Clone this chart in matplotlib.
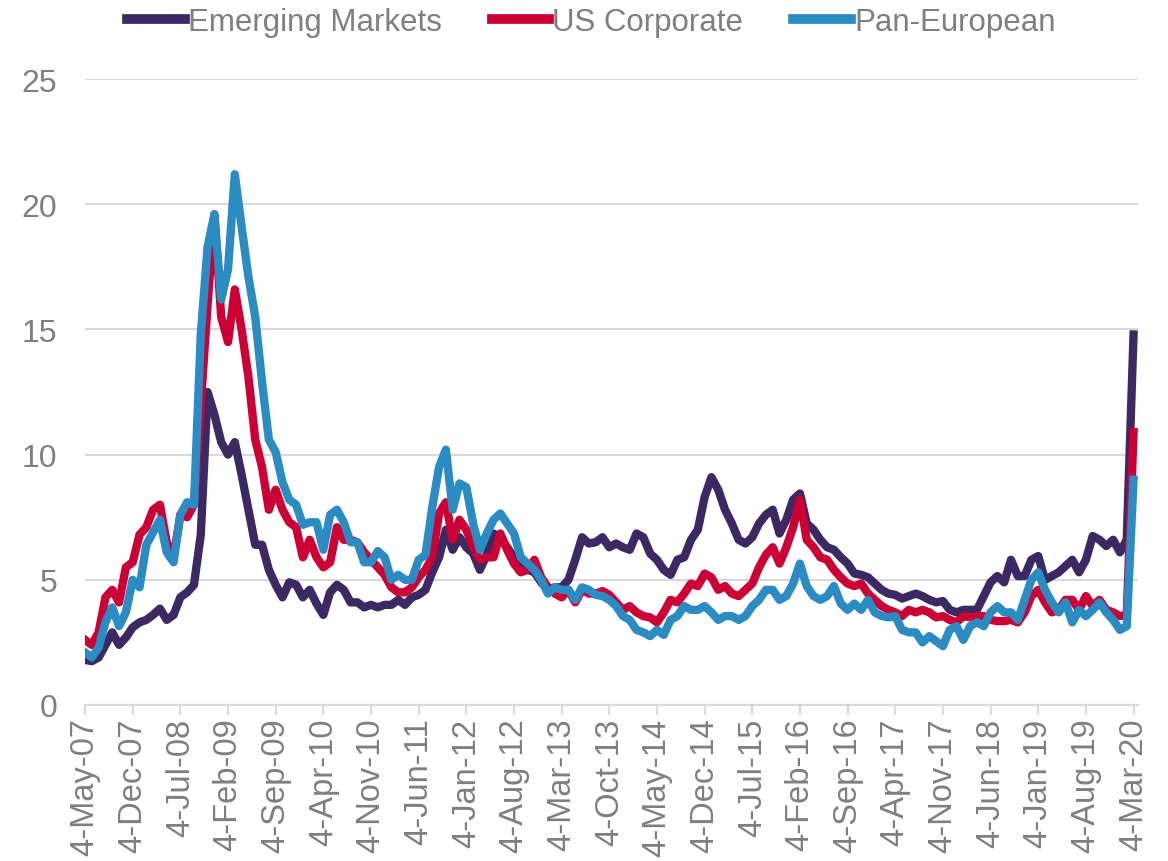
import numpy as np
import matplotlib
matplotlib.use("Agg")
import matplotlib.pyplot as plt

plt.rcParams['font.family'] = ['Liberation Sans', 'DejaVu Sans']

# monthly readings, 4-May-07 .. 4-Mar-20
emerging = [
    1.8, 1.75, 1.9, 2.4, 2.9, 2.4, 2.7, 3.1, 3.3, 3.4,
    3.6, 3.85, 3.4, 3.6, 4.3, 4.5, 4.8, 6.8, 12.5, 11.6,
    10.5, 10.0, 10.5, 9.2, 7.8, 6.4, 6.4, 5.4, 4.8, 4.3,
    4.9, 4.8, 4.3, 4.6, 4.05, 3.6, 4.5, 4.8, 4.6, 4.1,
    4.1, 3.9, 4.0, 3.9, 4.0, 4.0, 4.2, 4.0, 4.3, 4.4,
    4.6, 5.3, 5.9, 7.0, 6.2, 6.7, 6.3, 6.05, 5.4, 6.0,
    6.85, 6.7, 6.3, 5.9, 5.65, 5.4, 5.3, 4.9, 4.6, 4.7,
    4.7, 5.0, 5.8, 6.7, 6.45, 6.5, 6.7, 6.3, 6.45, 6.3,
    6.2, 6.85, 6.7, 6.05, 5.8, 5.4, 5.2, 5.8, 5.9, 6.6,
    7.0, 8.3, 9.1, 8.6, 7.8, 7.25, 6.6, 6.45, 6.7, 7.25,
    7.6, 7.8, 6.85, 7.4, 8.2, 8.45, 7.25, 7.0, 6.6, 6.3,
    6.2, 5.9, 5.65, 5.25, 5.2, 5.1, 4.85, 4.6, 4.45, 4.4,
    4.25, 4.35, 4.45, 4.35, 4.2, 4.1, 4.15, 3.8, 3.7, 3.8,
    3.8, 3.8, 4.35, 4.9, 5.15, 4.9, 5.8, 5.15, 5.15, 5.8,
    5.95, 5.0, 5.15, 5.3, 5.55, 5.8, 5.3, 5.8, 6.75, 6.6,
    6.35, 6.6, 6.1, 6.6, 14.8,
]
us_corporate = [
    2.6, 2.4, 2.9, 4.3, 4.6, 4.1, 5.5, 5.7, 6.8, 7.1,
    7.8, 8.0, 6.5, 5.9, 7.6, 7.5, 8.0, 12.0, 16.0, 19.6,
    15.5, 14.5, 16.6, 15.0, 13.1, 10.6, 9.5, 7.8, 8.6, 7.8,
    7.3, 7.1, 5.9, 6.6, 5.9, 5.5, 5.7, 7.1, 6.6, 6.6,
    6.5, 6.1, 5.8, 5.5, 5.2, 4.7, 4.5, 4.5, 4.7, 5.1,
    5.4, 5.9, 7.65, 8.1, 6.6, 7.4, 7.0, 6.3, 5.8, 5.9,
    5.9, 6.85, 6.2, 5.65, 5.3, 5.4, 5.8, 5.1, 4.7, 4.45,
    4.3, 4.6, 4.1, 4.6, 4.45, 4.45, 4.55, 4.4, 4.1, 3.8,
    3.95, 3.7, 3.55, 3.5, 3.3, 3.7, 4.2, 4.1, 4.45, 4.85,
    4.75, 5.25, 5.1, 4.6, 4.75, 4.45, 4.35, 4.6, 4.85, 5.5,
    6.0, 6.3, 5.65, 6.3, 7.1, 8.2, 6.6, 6.3, 5.9, 5.8,
    5.4, 5.1, 4.85, 4.75, 4.85, 4.45, 4.2, 3.95, 3.8, 3.7,
    3.55, 3.8, 3.7, 3.8, 3.7, 3.5, 3.55, 3.4, 3.3, 3.55,
    3.5, 3.55, 3.55, 3.4, 3.35, 3.35, 3.4, 3.3, 3.7, 4.35,
    4.6, 4.1, 3.7, 3.8, 4.2, 4.2, 3.8, 4.35, 3.95, 4.2,
    3.8, 3.7, 3.55, 3.6, 10.9,
]
pan_european = [
    2.1, 1.9, 2.3, 3.3, 3.9, 3.15, 3.7, 5.0, 4.7, 6.4,
    6.9, 7.4, 6.1, 5.7, 7.6, 8.1, 8.0, 14.8, 18.3, 19.6,
    16.2, 17.4, 21.2, 19.1, 17.1, 15.5, 12.9, 10.6, 10.1, 8.9,
    8.2, 8.0, 7.2, 7.3, 7.3, 6.2, 7.6, 7.8, 7.3, 6.5,
    6.5, 5.7, 5.7, 6.15, 5.9, 5.0, 5.2, 5.0, 5.0, 5.8,
    6.0, 7.9, 9.5, 10.2, 7.8, 8.85, 8.7, 7.25, 6.2, 6.85,
    7.4, 7.65, 7.25, 6.85, 5.9, 5.65, 5.4, 5.0, 4.45, 4.7,
    4.6, 4.6, 4.2, 4.7, 4.6, 4.4, 4.35, 4.2, 3.95, 3.55,
    3.4, 3.0, 2.9, 2.75, 3.0, 2.8, 3.4, 3.55, 3.95, 3.8,
    3.8, 3.95, 3.7, 3.4, 3.55, 3.55, 3.4, 3.55, 3.95, 4.2,
    4.6, 4.6, 4.2, 4.35, 4.85, 5.65, 4.75, 4.35, 4.2, 4.35,
    4.75, 4.05, 3.8, 4.05, 3.8, 4.2, 3.7, 3.55, 3.5, 3.55,
    3.0, 2.9, 2.9, 2.5, 2.75, 2.55, 2.35, 3.0, 3.15, 2.6,
    3.15, 3.3, 3.15, 3.7, 3.95, 3.7, 3.7, 3.4, 4.2, 5.0,
    5.3, 4.6, 4.1, 3.7, 4.1, 3.3, 3.8, 3.55, 3.8, 4.1,
    3.7, 3.4, 3.0, 3.15, 9.0,
]

tick_labels = [
    "4-May-07", "4-Dec-07", "4-Jul-08", "4-Feb-09", "4-Sep-09", "4-Apr-10",
    "4-Nov-10", "4-Jun-11", "4-Jan-12", "4-Aug-12", "4-Mar-13", "4-Oct-13",
    "4-May-14", "4-Dec-14", "4-Jul-15", "4-Feb-16", "4-Sep-16", "4-Apr-17",
    "4-Nov-17", "4-Jun-18", "4-Jan-19", "4-Aug-19", "4-Mar-20",
]

x = np.arange(len(emerging))
grey = '#7f7f7f'

fig = plt.figure(figsize=(11.68, 8.62), dpi=100)
ax = fig.add_axes([0.0728, 0.181, 0.9012, 0.726])

ax.plot(x, emerging, color='#3c2862', lw=6, label='Emerging Markets', solid_joinstyle='round')
ax.plot(x, us_corporate, color='#cc0035', lw=6, label='US Corporate', solid_joinstyle='round')
ax.plot(x, pan_european, color='#2b8bc3', lw=6, label='Pan-European', solid_joinstyle='round')

ax.set_xlim(0, 154.6)
ax.set_ylim(0, 25)
ax.set_yticks([0, 5, 10, 15, 20, 25])
ax.set_xticks(np.arange(0, len(emerging), 7))
ax.set_xticklabels(tick_labels, rotation=90, fontsize=23.5, color=grey)
ax.tick_params(axis='y', length=0, pad=20, labelsize=23, labelcolor=grey)
ax.tick_params(axis='x', length=7, width=1.5, color='#d9d9d9', pad=2)

ax.grid(axis='y', color='#d9d9d9', lw=1.5)
ax.set_axisbelow(True)
for s in ['top', 'right', 'left']:
    ax.spines[s].set_visible(False)
ax.spines['bottom'].set_color('#d9d9d9')
ax.spines['bottom'].set_linewidth(1.5)

leg = ax.legend(loc='upper center', bbox_to_anchor=(0.481, 1.16), ncol=3, frameon=False,
                fontsize=22.5, handlelength=1.85, handletextpad=0.1, columnspacing=1.6)
for t in leg.get_texts():
    t.set_color(grey)
for h in leg.get_lines():
    h.set_linewidth(7)

plt.savefig("out.png", dpi=100)
